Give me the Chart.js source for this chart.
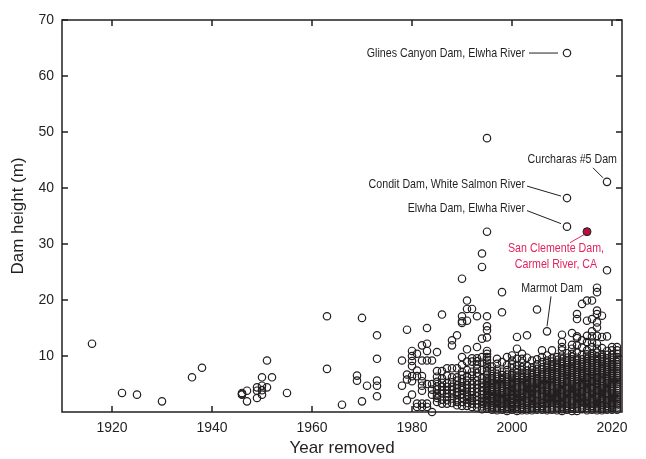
<!DOCTYPE html>
<html><head><meta charset="utf-8">
<script src="https://cdn.jsdelivr.net/npm/chart.js@4.4.1/dist/chart.umd.min.js"></script>
<style>html,body{margin:0;padding:0;background:#fff;}#wrap{width:646px;height:459px;}</style>
</head><body><div id="wrap"><canvas id="c" width="646" height="459"></canvas></div>
<script>
// ---------- DATA ----------
const xTicks = [1920, 1940, 1960, 1980, 2000, 2020];
const yTicks = [10, 20, 30, 40, 50, 60, 70];

// [year removed, dam height (m)]
const earlyRemovals = [
  [1916,12.2],[1922,3.4],[1925,3.1],[1930,1.9],[1936,6.2],[1938,7.9],
  [1946,3.4],[1946,3.1],[1946,3.2],[1947,3.8],[1947,1.9],[1949,4.4],[1949,3.8],[1949,2.5],
  [1950,6.2],[1950,4.7],[1950,3.9],[1950,3.1],[1951,9.2],[1951,4.4],[1952,6.2],[1955,3.4],
  [1963,17.1],[1963,7.7],[1966,1.3],[1969,6.5],[1969,5.6],[1970,16.8],[1970,1.9],[1971,4.7],
  [1973,13.7],[1973,9.5],[1973,5.6],[1973,4.7],[1973,2.8]
];

// [year removed, [dam heights (m)]]
const removals1975to1994 = [
  [1978,[9.2,4.7]],
  [1979,[14.7,6.7,5.8,2.1]],
  [1980,[10.9,10.0,9.1,8.2,6.4,5.5,3.1]],
  [1981,[10.4,7.4,6.4,1.5,0.9]],
  [1982,[11.9,9.2,6.4,5.5,4.7,3.8,1.5,0.9]],
  [1983,[15.0,12.2,10.9,9.2,5.0,1.5,0.9]],
  [1984,[9.2,5.0,4.0,3.1,0.0]],
  [1985,[10.7,7.3,6.3,5.4,4.6,4.0,3.3,2.9,2.5,1.8]],
  [1986,[17.4,7.3,6.0,5.2,4.5,3.8,3.3,2.2,1.5]],
  [1987,[7.8,6.5,5.1,4.5,3.9,3.3,2.7,2.1,1.5]],
  [1988,[12.8,11.9,7.8,6.2,5.3,4.5,3.9,3.3,2.4,1.6]],
  [1989,[13.7,7.8,6.2,5.6,4.8,4.2,3.6,3.0,2.1,1.8,1.2]],
  [1990,[23.8,17.1,16.2,15.9,9.8,8.4,7.2,6.6,5.9,5.3,4.6,4.3,3.9,3.2,2.5,1.8,1.1]],
  [1991,[19.9,18.4,16.3,11.2,9.0,7.5,6.4,5.6,4.8,4.2,3.6,3.1,2.7,2.2,1.6,1.1]],
  [1992,[18.4,9.6,9.0,7.2,6.5,5.5,4.9,4.3,3.6,3.0,2.5,2.0,1.5,0.9]],
  [1993,[17.1,11.6,9.6,9.1,8.5,7.7,7.0,6.3,5.6,4.9,4.2,3.5,2.8,2.1,1.4,0.8]],
  [1994,[28.3,25.9,13.1,9.8,8.8,7.5,6.0,5.2,4.4,3.7,3.1,2.5,2.0,1.5,1.0,0.5]]
];

const removals1995to2021 = [
  [1995,[48.9,32.2,17.1,15.3,14.6,13.3,10.9,10.4,9.8,9.3,8.8,8.3,7.8,7.3,6.7,6.1,5.5,4.9,4.3,3.7,3.1,2.5,1.9,1.3]],
  [1996,[6.4,5.6,4.9,4.0,3.2,2.5,1.7,1.0,0.4]],
  [1997,[9.5,8.6,6.8,5.9,5.1,4.4,3.6,2.9,2.1,1.4,0.7]],
  [1998,[21.4,17.8,7.2,6.1,5.3,4.6,3.8,3.0,2.3,1.5,0.8]],
  [1999,[9.8,8.4,6.7,5.8,5.0,4.2,3.5,2.7,2.0,1.2,0.5]],
  [2000,[9.2,7.9,6.9,6.1,5.4,4.7,3.9,3.2,2.5,1.8,1.1,0.4]],
  [2001,[13.4,11.3,9.5,7.6,6.5,5.7,4.9,4.2,3.4,2.7,1.9,1.2,0.5]],
  [2002,[10.4,9.5,8.0,7.0,6.1,5.3,4.6,3.8,3.1,2.4,1.6,0.9,0.3]],
  [2003,[13.7,7.4,6.5,5.7,5.0,4.3,3.5,2.8,2.0,1.3,0.6]],
  [2004,[8.0,7.0,6.2,5.4,4.7,3.9,3.2,2.5,1.7,1.0,0.3]],
  [2005,[18.3,9.4,7.7,6.8,6.0,5.2,4.5,3.7,3.0,2.2,1.5,0.8]],
  [2006,[11.0,9.8,8.0,7.1,6.3,5.5,4.8,4.0,3.3,2.6,1.8,1.1,0.4]],
  [2007,[10.1,9.2,8.3,7.5,6.7,5.9,5.1,4.4,3.6,2.9,2.1,1.4,0.6]],
  [2008,[11.0,9.6,8.5,7.7,6.9,6.1,5.3,4.6,3.8,3.1,2.3,1.6,0.8]],
  [2009,[9.8,8.8,7.9,7.1,6.3,5.5,4.7,4.0,3.2,2.5,1.7,1.0,0.3]],
  [2010,[13.8,12.5,11.6,11.0,9.5,8.6,7.8,7.0,6.2,5.4,4.6,3.9,3.1,2.4,1.6,0.9,0.2]],
  [2011,[9.2,8.4,7.6,6.8,6.0,5.3,4.5,3.8,3.0,2.3,1.5,0.8]],
  [2012,[14.1,12.0,10.4,9.4,8.6,7.8,7.0,6.2,5.4,4.7,3.9,3.2,2.4,1.7,0.9,0.2]],
  [2013,[17.5,16.6,13.5,13.2,10.7,9.2,8.3,7.5,6.7,5.9,5.1,4.4,3.6,2.9,2.1,1.4,0.6]],
  [2014,[19.3,12.8,11.5,8.9,8.1,7.3,6.5,5.7,5.0,4.2,3.5,2.7,2.0,1.2,0.5]],
  [2015,[19.9,16.3,12.5,10.3,9.5,8.7,7.9,7.1,6.3,5.6,4.8,4.1,3.3,2.6,1.8,1.1,0.3]],
  [2016,[19.9,16.6,14.4,13.5,11.6,10.0,9.2,8.4,7.6,6.8,6.0,5.3,4.5,3.8,3.0,2.3,1.5,0.8]],
  [2017,[22.2,21.4,18.1,17.5,16.0,12.2,11.3,9.9,9.1,8.3,7.5,6.7,6.0,5.2,4.4,3.7,2.9,2.2,1.4,0.7]],
  [2018,[17.2,10.3,9.4,8.6,7.8,7.0,6.2,5.5,4.7,4.0,3.2,2.5,1.7,1.0,0.3]],
  [2019,[25.3,13.5,10.9,9.6,8.8,8.0,7.2,6.4,5.6,4.9,4.1,3.4,2.6,1.9,1.1,0.4]],
  [2020,[11.6,11.0,10.2,9.3,8.5,7.7,6.9,6.1,5.3,4.6,3.8,3.1,2.3,1.6,0.8]],
  [2021,[11.6,11.0,9.8,8.9,8.1,7.3,6.5,5.7,5.0,4.2,3.4,2.7,1.9,1.2,0.4]]
];

// further dams in the crowded 1995-2021 band
const crowded1995to2021 = [
  [1995,[0.6,1.0,1.6,2.2,2.8,3.4,4.0,4.6,5.2,5.8]],
  [1996,[0.8,1.3,2.0,2.8,3.6,4.4,5.2,6.0,7.3,8.1]],
  [1997,[0.3,1.0,1.8,2.5,3.2,4.0,4.8,5.5,6.3,7.6]],
  [1998,[0.4,1.1,1.9,2.6,3.4,4.2,5.0,5.7,6.6,8.9]],
  [1999,[0.2,0.9,1.6,2.3,3.1,3.8,4.6,5.4,6.2,7.5]],
  [2000,[0.8,1.5,2.2,2.9,3.6,4.3,5.0,5.8,6.5,8.5,10.1]],
  [2001,[0.2,0.9,1.6,2.3,3.0,3.8,4.5,5.3,6.1,7.0,8.4]],
  [2002,[0.6,1.3,2.0,2.7,3.4,4.2,4.9,5.7,6.5,7.5,8.8]],
  [2003,[0.3,1.0,1.7,2.4,3.2,3.9,4.7,5.4,6.1,6.9,8.2,9.7]],
  [2004,[0.7,1.4,2.1,2.8,3.6,4.3,5.1,5.8,6.6,7.5,9.2]],
  [2005,[0.4,1.1,1.9,2.6,3.3,4.1,4.9,5.6,6.4,7.2,8.5]],
  [2006,[0.8,1.5,2.2,2.9,3.7,4.4,5.1,5.9,6.7,7.6,8.9]],
  [2007,[0.3,1.0,1.7,2.5,3.2,4.0,4.8,5.5,6.3,7.1,7.9,8.7]],
  [2008,[0.4,1.2,1.9,2.7,3.4,4.2,4.9,5.7,6.5,7.3,8.1,9.0]],
  [2009,[0.7,1.4,2.1,2.8,3.6,4.3,5.1,5.9,6.7,7.5,8.3,9.3]],
  [2010,[0.5,1.2,2.0,2.7,3.5,4.2,5.0,5.8,6.6,7.4,8.2,9.0,10.1]],
  [2011,[0.4,1.1,1.9,2.6,3.4,4.1,4.9,5.6,6.4,7.2,8.0,8.8,9.7,10.5]],
  [2012,[0.6,1.3,2.0,2.8,3.5,4.3,5.0,5.8,6.6,7.4,8.2,9.0,9.9,11.3]],
  [2013,[0.2,1.0,1.7,2.5,3.2,4.0,4.7,5.5,6.3,7.1,7.9,8.7,9.7,11.9]],
  [2014,[0.8,1.6,2.3,3.1,3.8,4.6,5.3,6.1,6.9,7.7,8.5,9.4,10.2]],
  [2015,[0.7,1.4,2.2,2.9,3.7,4.4,5.2,6.0,6.7,7.5,8.3,9.1,9.9,11.0,13.6]],
  [2016,[0.4,1.1,1.9,2.6,3.4,4.1,4.9,5.6,6.4,7.2,8.0,8.8,9.6,10.5,12.4]],
  [2017,[0.3,1.0,1.8,2.5,3.3,4.0,4.8,5.6,6.3,7.1,7.9,8.7,9.5,10.6,13.6,15.1]],
  [2018,[0.6,1.3,2.1,2.8,3.6,4.3,5.1,5.9,6.6,7.4,8.2,9.0,9.8,11.4,13.4]],
  [2019,[0.8,1.5,2.2,3.0,3.7,4.5,5.2,6.0,6.8,7.6,8.4,9.2,10.2]],
  [2020,[0.4,1.2,1.9,2.7,3.4,4.2,5.0,5.7,6.5,7.3,8.1,8.9,9.7]],
  [2021,[0.8,1.5,2.3,3.0,3.8,4.6,5.3,6.1,6.9,7.7,8.5,9.3,10.4]]
];

// labelled dams
const namedDams    = ["Glines Canyon Dam, Elwha River", "Condit Dam, White Salmon River", "Elwha Dam, Elwha River", "Curcharas #5 Dam", "Marmot Dam", "San Clemente Dam,\nCarmel River, CA"];
const namedYears   = [2011, 2011, 2011, 2019, 2007, 2015];
const namedHeights = [64.1, 38.2, 33.1, 41.1, 14.4, 32.2];
const highlightedDam = "San Clemente Dam,\nCarmel River, CA";

// ---------- BUILD ----------
const openPoints = [];
earlyRemovals.forEach(([yr, h]) => openPoints.push({x: yr, y: h}));
[...removals1975to1994, ...removals1995to2021, ...crowded1995to2021]
  .forEach(([yr, hs]) => hs.forEach(h => openPoints.push({x: yr, y: h})));
const redPoints = [];
namedDams.forEach((n, i) => {
  const p = {x: namedYears[i], y: namedHeights[i]};
  if (n === highlightedDam) redPoints.push(p); else openPoints.push(p);
});

const INK = '#231f20';
const RED = '#e3235f';
const FAMILY = '"Liberation Sans", Arial, Helvetica, sans-serif';
Chart.defaults.font.family = FAMILY;

// label placement (pixel offsets from the dam's point)
const labelLayout = {
  "Glines Canyon Dam, Elwha River": {tx:-42, ty:0, align:'right', line:[-38,0,-9,0]},
  "Condit Dam, White Salmon River": {tx:-42, ty:-14, align:'right', line:[-40,-12,-6,-2]},
  "Elwha Dam, Elwha River": {tx:-42, ty:-18, align:'right', line:[-40,-16,-6,-3]},
  "Curcharas #5 Dam": {tx:10, ty:-22, align:'right', line:[-14,-14,-4,-4]},
  "Marmot Dam": {tx:5, ty:-43, align:'center', line:[4,-35,0,-5]},
  "San Clemente Dam,\nCarmel River, CA": {tx:-31, ty:17, align:'center', line:[-17,11,-3,3], lh:16, color:RED}
};
const NARROW = 0.82;

const framePlugin = {
  id: 'frame',
  afterDatasetsDraw(chart) {
    const {ctx, chartArea: a, scales: {x, y}} = chart;
    ctx.save();
    ctx.strokeStyle = INK;
    ctx.lineWidth = 1.5;
    ctx.strokeRect(a.left, a.top, a.right - a.left, a.bottom - a.top);
    ctx.beginPath();
    xTicks.forEach(v => {
      const px = x.getPixelForValue(v);
      ctx.moveTo(px, a.bottom); ctx.lineTo(px, a.bottom - 6);
      ctx.moveTo(px, a.top); ctx.lineTo(px, a.top + 6);
    });
    yTicks.forEach(v => {
      const py = y.getPixelForValue(v);
      ctx.moveTo(a.left, py); ctx.lineTo(a.left + 6, py);
      ctx.moveTo(a.right, py); ctx.lineTo(a.right - 6, py);
    });
    ctx.stroke();

    // annotations
    ctx.font = '13px ' + FAMILY;
    ctx.textBaseline = 'middle';
    ctx.lineWidth = 1;
    namedDams.forEach((name, i) => {
      const L = labelLayout[name];
      const px = x.getPixelForValue(namedYears[i]);
      const py = y.getPixelForValue(namedHeights[i]);
      const col = L.color || INK;
      ctx.fillStyle = col; ctx.strokeStyle = col;
      ctx.textAlign = L.align;
      name.split('\n').forEach((line, k) => {
        const tx = px + L.tx, ty = py + L.ty + k * (L.lh || 0);
        ctx.save();
        ctx.translate(tx, ty);
        ctx.scale(NARROW, 1);
        ctx.fillText(line, 0, 0);
        ctx.restore();
      });
      ctx.beginPath();
      ctx.moveTo(px + L.line[0], py + L.line[1]);
      ctx.lineTo(px + L.line[2], py + L.line[3]);
      ctx.stroke();
    });
    ctx.restore();
  }
};

new Chart(document.getElementById('c'), {
  type: 'scatter',
  data: {
    datasets: [
      {label: 'Removed dams', data: openPoints, pointRadius: 3.7, pointHoverRadius: 3.7,
       borderColor: INK, backgroundColor: 'rgba(255,255,255,0)', borderWidth: 1.2},
      {label: highlightedDam, data: redPoints, pointRadius: 4, pointHoverRadius: 4,
       borderColor: INK, backgroundColor: '#b3123f', borderWidth: 1}
    ]
  },
  options: {
    responsive: false,
    animation: false,
    devicePixelRatio: 1,
    clip: false,
    layout: {padding: {top: 20, right: 24, left: 0, bottom: 0}},
    plugins: {legend: {display: false}, tooltip: {enabled: false}},
    scales: {
      x: {
        type: 'linear', min: 1910, max: 2022,
        afterBuildTicks: s => { s.ticks = xTicks.map(v => ({value: v})); },
        afterFit: s => { s.height = 47; s.paddingLeft = 0; s.paddingRight = 0; },
        grid: {display: false, drawTicks: false},
        border: {display: false},
        ticks: {color: INK, padding: 8, maxRotation: 0, autoSkip: false,
                callback: v => String(v),
                font: {family: FAMILY, size: 14}},
        title: {display: true, text: 'Year removed', color: INK,
                font: {family: FAMILY, size: 17, lineHeight: 1},
                padding: {top: 0, bottom: 2}}
      },
      y: {
        type: 'linear', min: 0, max: 70,
        afterBuildTicks: s => { s.ticks = yTicks.map(v => ({value: v})); },
        afterFit: s => { s.width = 62; s.paddingTop = 0; s.paddingBottom = 0; },
        grid: {display: false, drawTicks: false},
        border: {display: false},
        ticks: {color: INK, padding: 8, autoSkip: false,
                callback: v => String(v),
                font: {family: FAMILY, size: 14}},
        title: {display: true, text: 'Dam height (m)', color: INK,
                font: {family: FAMILY, size: 17, lineHeight: 1},
                padding: {top: 10, bottom: 0}}
      }
    }
  },
  plugins: [framePlugin]
});
</script></body></html>
